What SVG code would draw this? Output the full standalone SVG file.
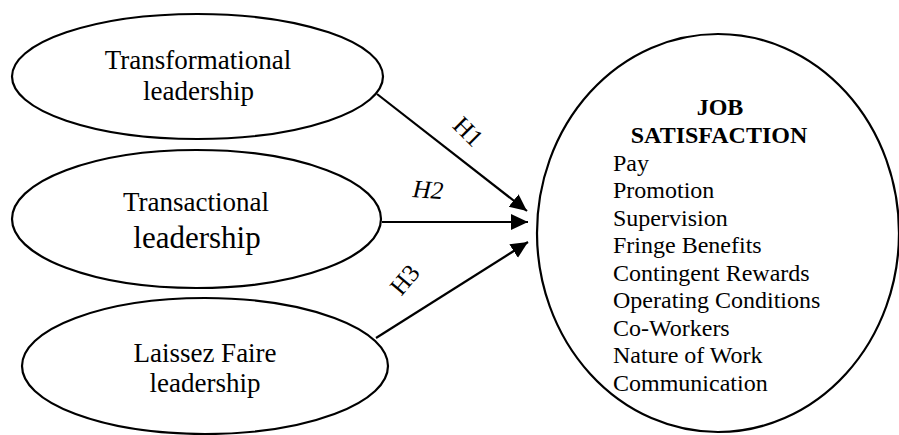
<svg xmlns="http://www.w3.org/2000/svg" width="899" height="435" viewBox="0 0 899 435">
<style>
  .shape { fill: #ffffff; stroke: #000000; stroke-width: 2.2; }
  .edge { stroke: #000000; stroke-width: 2.2; fill: none; }
  .lbl { font-family: "Liberation Serif", "Times New Roman", serif; fill: #000000; text-anchor: middle; }
  .node { font-size: 27px; }
  .big { font-size: 31px; }
  .h { font-size: 25px; }
  .item { font-family: "Liberation Serif", "Times New Roman", serif; font-size: 24px; fill: #000000; }
  .title { font-size: 24px; font-weight: bold; }
</style>
<defs>
  <marker id="arrow" markerUnits="userSpaceOnUse" markerWidth="18" markerHeight="18" viewBox="0 -9 18 18" refX="17" refY="0" orient="auto">
    <path d="M0,-8 L17,0 L0,8 z" fill="#000000"/>
  </marker>
</defs>
<rect width="899" height="435" fill="#ffffff"/>
<g id="connectors">
  <line class="edge" x1="377" y1="94" x2="527" y2="211" marker-end="url(#arrow)"/>
  <line class="edge" x1="382" y1="222" x2="528" y2="222" marker-end="url(#arrow)"/>
  <line class="edge" x1="376" y1="338" x2="528" y2="242" marker-end="url(#arrow)"/>
  <text class="lbl h" transform="translate(468,132) rotate(45)" y="8">H1</text>
  <text class="lbl h" transform="translate(427.5,198) rotate(4)" font-style="italic">H2</text>
  <text class="lbl h" transform="translate(405,280) rotate(-50)" y="8">H3</text>
</g>
<g id="transformational">
  <ellipse class="shape" cx="197.5" cy="76.5" rx="185.5" ry="62.5"/>
  <text class="lbl node" x="198" y="69">Transformational</text>
  <text class="lbl node" x="198.5" y="100">leadership</text>
</g>
<g id="transactional">
  <ellipse class="shape" cx="196.5" cy="219" rx="184.5" ry="69"/>
  <text class="lbl node" x="196" y="211">Transactional</text>
  <text class="lbl big" x="197" y="248">leadership</text>
</g>
<g id="laissez-faire">
  <ellipse class="shape" cx="205" cy="366" rx="183" ry="68"/>
  <text class="lbl node" x="205" y="362">Laissez Faire</text>
  <text class="lbl node" x="205" y="392">leadership</text>
</g>
<g id="job-satisfaction">
  <ellipse class="shape" cx="718" cy="233" rx="181" ry="199"/>
  <text class="lbl title" x="720" y="115">JOB</text>
  <text class="lbl title" x="719" y="143">SATISFACTION</text>
  <text class="item" x="613" y="170.5">Pay</text>
  <text class="item" x="613" y="198">Promotion</text>
  <text class="item" x="613" y="225.5">Supervision</text>
  <text class="item" x="613" y="253">Fringe Benefits</text>
  <text class="item" x="613" y="280.5">Contingent Rewards</text>
  <text class="item" x="613" y="308">Operating Conditions</text>
  <text class="item" x="613" y="335.5">Co-Workers</text>
  <text class="item" x="613" y="363">Nature of Work</text>
  <text class="item" x="613" y="390.5">Communication</text>
</g>
</svg>
